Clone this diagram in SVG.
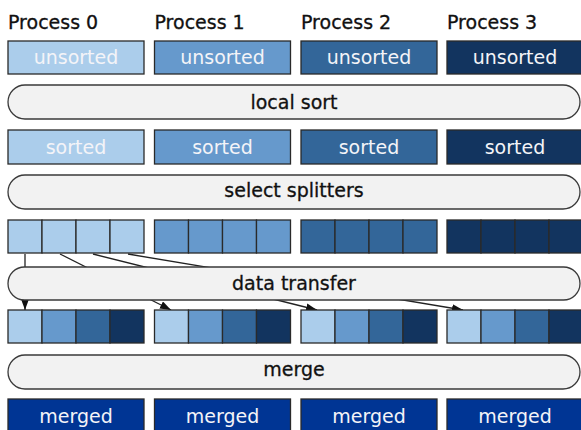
<svg xmlns="http://www.w3.org/2000/svg" width="581" height="430" viewBox="0 0 581 430">
<defs>
<style>
.hd{font-family:"DejaVu Sans",sans-serif;font-size:19px;fill:#111;stroke:#111;stroke-width:0.3}
.bt{font-family:"DejaVu Sans",sans-serif;font-size:19px;fill:#f4f4f8;text-anchor:middle}
.bar{fill:#f2f2f2;stroke:#3a3a3a;stroke-width:1.3}
.bl{font-family:"DejaVu Sans",sans-serif;font-size:19px;fill:#111;stroke:#111;stroke-width:0.3;text-anchor:middle}
.bx{stroke:#2a2a2a;stroke-width:1.3}
.c0{fill:#abcdeb}.c1{fill:#6699cc}.c2{fill:#336699}.c3{fill:#12345f}.cm{fill:#003594}
.ln{stroke:#222;stroke-width:1.3;fill:none}
</style>
<marker id="ah" markerUnits="userSpaceOnUse" markerWidth="11" markerHeight="8" refX="11" refY="4" orient="auto">
<path d="M0,0 L11,4 L0,8 z" fill="#111"/>
</marker>
</defs>

<g id="connectors">
<line class="ln" x1="25" y1="254" x2="25" y2="310" marker-end="url(#ah)"/>
<line class="ln" x1="60" y1="254" x2="171" y2="310" marker-end="url(#ah)"/>
<line class="ln" x1="93" y1="254" x2="317" y2="310" marker-end="url(#ah)"/>
<line class="ln" x1="128" y1="254" x2="463" y2="310" marker-end="url(#ah)"/>
</g>

<g id="process0">
<text class="hd" x="8" y="29">Process 0</text>
<rect class="bx c0" x="8" y="41" width="136" height="33"/>
<text class="bt" x="76" y="64">unsorted</text>
<rect class="bx c0" x="8" y="130" width="136" height="34"/>
<text class="bt" x="76" y="154">sorted</text>
<rect class="bx c0" x="8" y="220" width="34" height="33"/>
<rect class="bx c0" x="42" y="220" width="34" height="33"/>
<rect class="bx c0" x="76" y="220" width="34" height="33"/>
<rect class="bx c0" x="110" y="220" width="34" height="33"/>
<rect class="bx c0" x="8" y="310" width="34" height="33"/>
<rect class="bx c1" x="42" y="310" width="34" height="33"/>
<rect class="bx c2" x="76" y="310" width="34" height="33"/>
<rect class="bx c3" x="110" y="310" width="34" height="33"/>
<rect class="bx cm" x="8" y="399" width="136" height="34"/>
<text class="bt" x="76" y="423">merged</text>
</g>

<g id="process1">
<text class="hd" x="154.5" y="29">Process 1</text>
<rect class="bx c1" x="154.5" y="41" width="136" height="33"/>
<text class="bt" x="222.5" y="64">unsorted</text>
<rect class="bx c1" x="154.5" y="130" width="136" height="34"/>
<text class="bt" x="222.5" y="154">sorted</text>
<rect class="bx c1" x="154.5" y="220" width="34" height="33"/>
<rect class="bx c1" x="188.5" y="220" width="34" height="33"/>
<rect class="bx c1" x="222.5" y="220" width="34" height="33"/>
<rect class="bx c1" x="256.5" y="220" width="34" height="33"/>
<rect class="bx c0" x="154.5" y="310" width="34" height="33"/>
<rect class="bx c1" x="188.5" y="310" width="34" height="33"/>
<rect class="bx c2" x="222.5" y="310" width="34" height="33"/>
<rect class="bx c3" x="256.5" y="310" width="34" height="33"/>
<rect class="bx cm" x="154.5" y="399" width="136" height="34"/>
<text class="bt" x="222.5" y="423">merged</text>
</g>

<g id="process2">
<text class="hd" x="301" y="29">Process 2</text>
<rect class="bx c2" x="301" y="41" width="136" height="33"/>
<text class="bt" x="369" y="64">unsorted</text>
<rect class="bx c2" x="301" y="130" width="136" height="34"/>
<text class="bt" x="369" y="154">sorted</text>
<rect class="bx c2" x="301" y="220" width="34" height="33"/>
<rect class="bx c2" x="335" y="220" width="34" height="33"/>
<rect class="bx c2" x="369" y="220" width="34" height="33"/>
<rect class="bx c2" x="403" y="220" width="34" height="33"/>
<rect class="bx c0" x="301" y="310" width="34" height="33"/>
<rect class="bx c1" x="335" y="310" width="34" height="33"/>
<rect class="bx c2" x="369" y="310" width="34" height="33"/>
<rect class="bx c3" x="403" y="310" width="34" height="33"/>
<rect class="bx cm" x="301" y="399" width="136" height="34"/>
<text class="bt" x="369" y="423">merged</text>
</g>

<g id="process3">
<text class="hd" x="447" y="29">Process 3</text>
<rect class="bx c3" x="447" y="41" width="136" height="33"/>
<text class="bt" x="515" y="64">unsorted</text>
<rect class="bx c3" x="447" y="130" width="136" height="34"/>
<text class="bt" x="515" y="154">sorted</text>
<rect class="bx c3" x="447" y="220" width="34" height="33"/>
<rect class="bx c3" x="481" y="220" width="34" height="33"/>
<rect class="bx c3" x="515" y="220" width="34" height="33"/>
<rect class="bx c3" x="549" y="220" width="34" height="33"/>
<rect class="bx c0" x="447" y="310" width="34" height="33"/>
<rect class="bx c1" x="481" y="310" width="34" height="33"/>
<rect class="bx c2" x="515" y="310" width="34" height="33"/>
<rect class="bx c3" x="549" y="310" width="34" height="33"/>
<rect class="bx cm" x="447" y="399" width="136" height="34"/>
<text class="bt" x="515" y="423">merged</text>
</g>

<g id="local-sort">
<rect class="bar" x="8" y="85" width="572" height="34" rx="17"/>
<text class="bl" x="294" y="109">local sort</text>
</g>
<g id="select-splitters">
<rect class="bar" x="8" y="175" width="572" height="34" rx="17"/>
<text class="bl" x="294" y="197">select splitters</text>
</g>
<g id="data-transfer">
<rect class="bar" x="8" y="267" width="572" height="33" rx="16.5"/>
<text class="bl" x="294" y="290">data transfer</text>
</g>
<g id="merge">
<rect class="bar" x="8" y="355" width="572" height="34" rx="17"/>
<text class="bl" x="294" y="376">merge</text>
</g>
</svg>
